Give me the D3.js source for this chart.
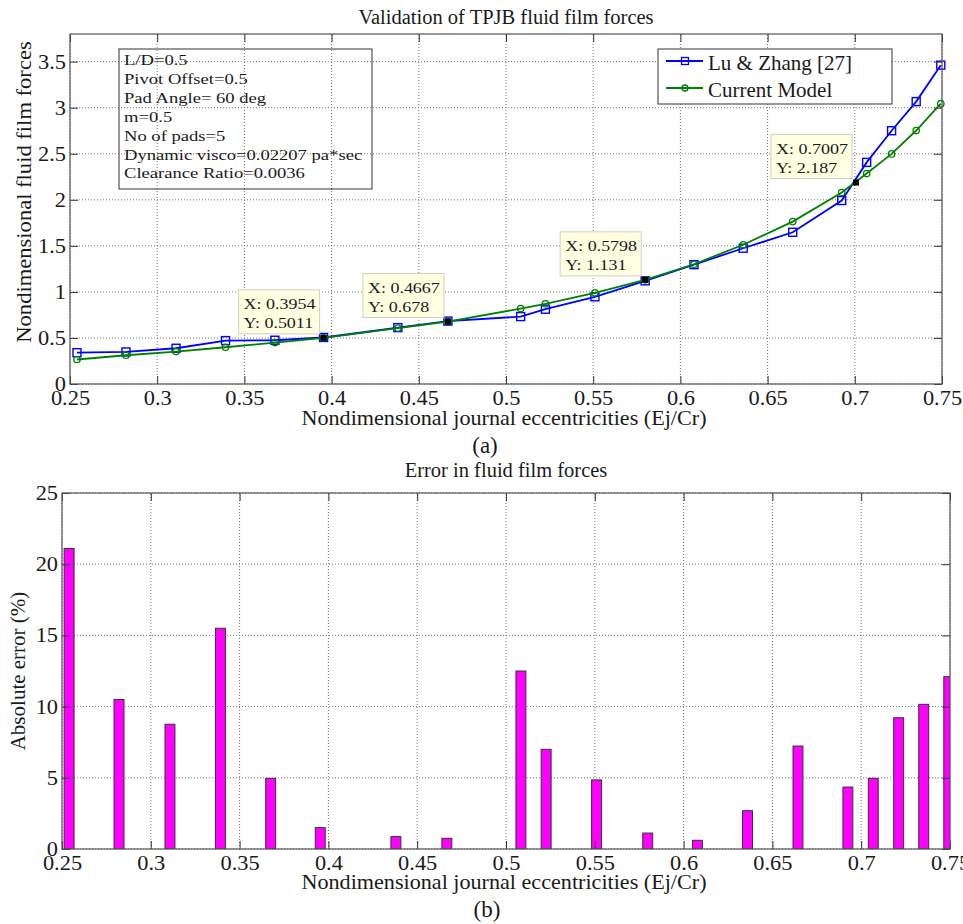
<!DOCTYPE html>
<html>
<head>
<meta charset="utf-8">
<script src="https://cdn.jsdelivr.net/npm/d3@7"></script>
<style>
  body { margin: 0; background: #fff; }
  text { font-family: "Liberation Serif", "Times New Roman", serif; fill: #1a1a1a; }
</style>
</head>
<body>
<div id="viz"></div>
<script>
// eccentricities shared by both panels
const ecc = [0.2540, 0.2821, 0.3108, 0.3392, 0.3675, 0.3954, 0.4380, 0.4667, 0.5084, 0.5226,
             0.5510, 0.5798, 0.6078, 0.6360, 0.6644, 0.6925, 0.7068, 0.7211, 0.7352, 0.7493];
const lu_zhang      = [0.340, 0.348, 0.388, 0.471, 0.475, 0.505, 0.612, 0.683, 0.732, 0.812,
                       0.947, 1.120, 1.296, 1.474, 1.647, 1.992, 2.406, 2.750, 3.066, 3.462];
const current_model = [0.266, 0.312, 0.352, 0.399, 0.450, 0.501, 0.607, 0.678, 0.819, 0.870,
                       0.990, 1.131, 1.300, 1.512, 1.763, 2.079, 2.285, 2.498, 2.752, 3.043];
const abs_error     = [21.1, 10.5, 8.76, 15.5, 4.96, 1.5, 0.87, 0.75, 12.5, 7.0,
                       4.85, 1.12, 0.61, 2.69, 7.23, 4.35, 4.96, 9.22, 10.16, 12.1];

// data tips
const tip_x = [0.3954, 0.4667, 0.5798, 0.7007];
const tip_y = [0.5011, 0.678, 1.131, 2.187];

const series_names = ["Lu & Zhang [27]", "Current Model"];
const params = ["L/D=0.5", "Pivot Offset=0.5", "Pad Angle= 60 deg", "m=0.5", "No of pads=5",
                "Dynamic visco=0.02207 pa*sec", "Clearance Ratio=0.0036"];

const x_ticks   = [0.25, 0.3, 0.35, 0.4, 0.45, 0.5, 0.55, 0.6, 0.65, 0.7, 0.75];
const y_ticks_a = [0, 0.5, 1, 1.5, 2, 2.5, 3, 3.5];
const y_ticks_b = [0, 5, 10, 15, 20, 25];

const blue = "#0000ff", green = "#008000", magenta = "#ff00ff";
const bar_w = 0.0056;

const svg = d3.select("#viz").append("svg")
  .attr("width", 963).attr("height", 924)
  .style("background", "#fff");

const xa = d3.scaleLinear().domain([0.25, 0.75]).range([70, 942]),
      ya = d3.scaleLinear().domain([0, 3.8]).range([384, 34]),
      xb = d3.scaleLinear().domain([0.25, 0.75]).range([62, 950]),
      yb = d3.scaleLinear().domain([0, 25]).range([849, 493]);

const fmt = d3.format("~g");

function put(g, str, x, y, {size = 20, k = 1, anchor = "middle", rot = 0} = {}) {
  return g.append("text")
    .attr("transform", `translate(${x},${y}) rotate(${rot}) scale(${k},1)`)
    .attr("text-anchor", anchor)
    .style("font-size", size + "px")
    .text(str);
}

function drawGrid(g, x, y, xt, yt) {
  const grid = g.append("g")
    .attr("stroke", "#777").attr("stroke-width", 1).attr("stroke-dasharray", "1,2");
  grid.selectAll(".gx").data(xt).join("line")
    .attr("x1", d => x(d)).attr("x2", d => x(d))
    .attr("y1", y.range()[0]).attr("y2", y.range()[1]);
  grid.selectAll(".gy").data(yt).join("line")
    .attr("x1", x.range()[0]).attr("x2", x.range()[1])
    .attr("y1", d => y(d)).attr("y2", d => y(d));
}

function widen(sel, k) {
  sel.selectAll(".tick text").each(function () {
    const t = d3.select(this);
    t.attr("x", (+t.attr("x") || 0) / k).attr("transform", `scale(${k},1)`);
  }).style("font-size", "20px");
}

function drawAxes(g, x, y, xt, yt) {
  const [x0, x1] = x.range(), [y0, y1] = y.range();
  const tick = 8;
  const bottom = g.append("g").attr("transform", `translate(0,${y0})`)
    .call(d3.axisBottom(x).tickValues(xt).tickFormat(fmt).tickSizeInner(-tick).tickSizeOuter(0).tickPadding(7));
  const left = g.append("g").attr("transform", `translate(${x0},0)`)
    .call(d3.axisLeft(y).tickValues(yt).tickFormat(fmt).tickSizeInner(-tick).tickSizeOuter(0).tickPadding(4));
  g.append("g").attr("transform", `translate(0,${y1})`)
    .call(d3.axisTop(x).tickValues(xt).tickFormat("").tickSizeInner(-tick).tickSizeOuter(0));
  g.append("g").attr("transform", `translate(${x1},0)`)
    .call(d3.axisRight(y).tickValues(yt).tickFormat("").tickSizeInner(-tick).tickSizeOuter(0));
  g.selectAll(".domain").remove();
  g.selectAll(".tick line").attr("stroke", "#333");
  widen(bottom, 1.12);
  widen(left, 1.12);
  g.append("rect")
    .attr("x", x0).attr("y", y1).attr("width", x1 - x0).attr("height", y0 - y1)
    .attr("fill", "none").attr("stroke", "#555").attr("stroke-width", 1.2);
}

// ---------- panel (a) ----------
const ga = svg.append("g");
drawGrid(ga, xa, ya, x_ticks, y_ticks_a);

// parameters box (transparent, grid shows through)
const pbox = ga.append("g").attr("transform", `translate(${xa.range()[0] + 49},${ya.range()[1] + 15})`);
pbox.append("rect").attr("width", 253).attr("height", 140)
  .attr("fill", "none").attr("stroke", "#333").attr("stroke-width", 1);
params.forEach((p, i) => put(pbox, p, 5, 16 + i * 18.9, {size: 15.5, k: 1.2, anchor: "start"}));

const line_a = (vals) => d3.line().x((d, i) => xa(ecc[i])).y(d => ya(d))(vals);

ga.append("path").attr("d", line_a(lu_zhang))
  .attr("fill", "none").attr("stroke", blue).attr("stroke-width", 1.8);
ga.append("g").selectAll("rect").data(lu_zhang).join("rect")
  .attr("x", (d, i) => xa(ecc[i]) - 4).attr("y", d => ya(d) - 4)
  .attr("width", 8).attr("height", 8)
  .attr("fill", "none").attr("stroke", blue).attr("stroke-width", 1.4);

ga.append("path").attr("d", line_a(current_model))
  .attr("fill", "none").attr("stroke", green).attr("stroke-width", 1.8);
ga.append("g").selectAll("circle").data(current_model).join("circle")
  .attr("cx", (d, i) => xa(ecc[i])).attr("cy", d => ya(d)).attr("r", 3.2)
  .attr("fill", "none").attr("stroke", green).attr("stroke-width", 1.3);

drawAxes(ga, xa, ya, x_ticks, y_ticks_a);

// data tips
tip_x.forEach((tx, i) => {
  const px = xa(tx), py = ya(tip_y[i]);
  const tg = ga.append("g").attr("transform", `translate(${px - 85},${py - 48})`);
  tg.append("rect").attr("width", 81).attr("height", 44)
    .attr("fill", "#ffffe1").attr("stroke", "#d0d0c0");
  put(tg, "X: " + tx, 5, 19, {size: 15, k: 1.2, anchor: "start"});
  put(tg, "Y: " + tip_y[i], 5, 38, {size: 15, k: 1.2, anchor: "start"});
  ga.append("rect").attr("x", px - 3).attr("y", py - 3).attr("width", 6).attr("height", 6)
    .attr("fill", "#000");
});

// legend
const lg = ga.append("g").attr("transform", "translate(658,49)");
lg.append("rect").attr("width", 234).attr("height", 55)
  .attr("fill", "#fff").attr("stroke", "#555").attr("stroke-width", 1.2);
[blue, green].forEach((c, i) => {
  const cy = 12 + i * 27;
  lg.append("line").attr("x1", 8).attr("x2", 45).attr("y1", cy).attr("y2", cy)
    .attr("stroke", c).attr("stroke-width", 1.8);
  if (i === 0) {
    lg.append("rect").attr("x", 23.5).attr("y", cy - 3.5).attr("width", 7).attr("height", 7)
      .attr("fill", "none").attr("stroke", c).attr("stroke-width", 1.3);
  } else {
    lg.append("circle").attr("cx", 27).attr("cy", cy).attr("r", 3)
      .attr("fill", "none").attr("stroke", c).attr("stroke-width", 1.3);
  }
  put(lg, series_names[i], 50, cy + 9, {size: 21, anchor: "start"});
});

put(svg, "Validation of TPJB fluid film forces", 506, 24, {size: 20.5});
put(svg, "Nondimensional journal eccentricities (Ej/Cr)", 504, 425, {size: 20.5, k: 1.08});
put(svg, "Nondimensional fluid film forces", 31, 192, {size: 21.5, k: 1.05, rot: -90});
put(svg, "(a)", 485, 453, {size: 23});

// ---------- panel (b) ----------
const gb = svg.append("g");
drawGrid(gb, xb, yb, x_ticks, y_ticks_b);

svg.append("defs").append("clipPath").attr("id", "clip-b")
  .append("rect")
  .attr("x", xb.range()[0]).attr("y", yb.range()[1])
  .attr("width", xb.range()[1] - xb.range()[0]).attr("height", yb.range()[0] - yb.range()[1]);

gb.append("g").attr("clip-path", "url(#clip-b)")
  .selectAll("rect").data(abs_error).join("rect")
  .attr("x", (d, i) => xb(ecc[i] - bar_w / 2))
  .attr("width", xb(bar_w) - xb(0))
  .attr("y", d => yb(d))
  .attr("height", d => yb(0) - yb(d))
  .attr("fill", magenta).attr("stroke", "#333").attr("stroke-width", 1);

drawAxes(gb, xb, yb, x_ticks, y_ticks_b);

put(svg, "Error in fluid film forces", 506, 477, {size: 20.5});
put(svg, "Nondimensional journal eccentricities (Ej/Cr)", 504, 889, {size: 20.5, k: 1.08});
put(svg, "Absolute error (%)", 25, 671, {size: 21, rot: -90});
put(svg, "(b)", 487, 917, {size: 23});
</script>
</body>
</html>
